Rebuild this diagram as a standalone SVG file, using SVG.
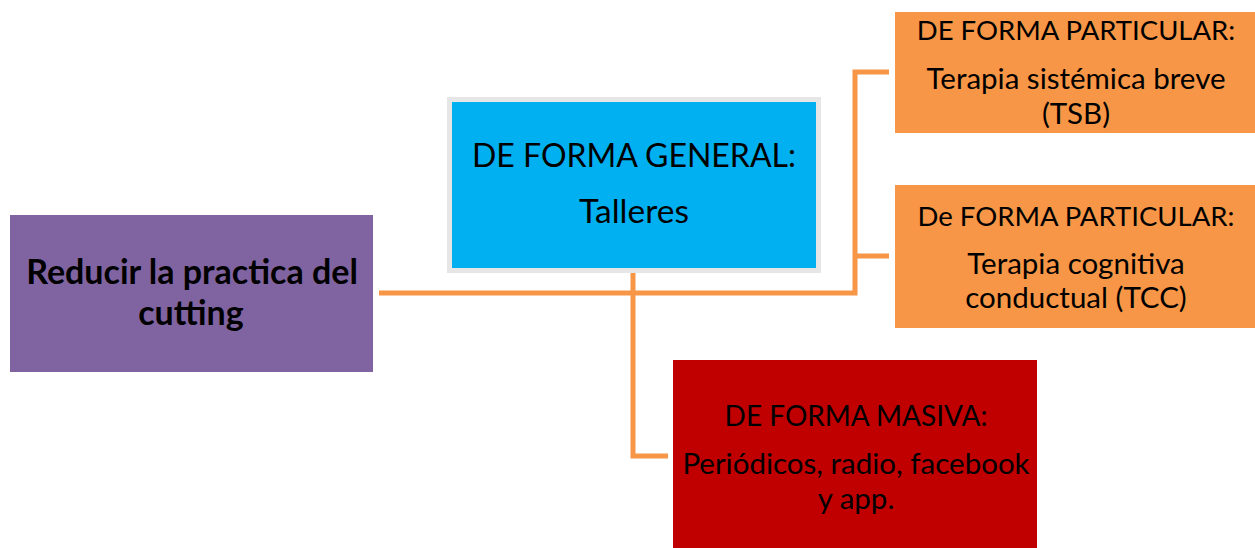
<svg xmlns="http://www.w3.org/2000/svg" width="1255" height="548" viewBox="0 0 1255 548">
<style>
.t{font-family:Lato,"Open Sans","Liberation Sans",sans-serif;fill:#000;text-anchor:middle}
.c{fill:none;stroke:#F79646;stroke-width:5;stroke-linejoin:miter}
</style>
<rect width="1255" height="548" fill="#fff"/>
<g id="connectors">
<polyline class="c" points="379,293 855,293 855,72 889,72"/>
<polyline class="c" points="855,256 889,256"/>
<polyline class="c" points="633,273 633,456 668,456"/>
</g>
<g id="root">
<rect x="10" y="215" width="363" height="157" fill="#8064A2"/>
<text class="t" x="192" y="284" font-size="34" font-weight="bold">Reducir la practica del</text>
<text class="t" x="191" y="325" font-size="34" font-weight="bold">cutting</text>
</g>
<g id="general">
<rect x="449.5" y="99.5" width="369" height="171" fill="#00B0F0" stroke="#E6E6E6" stroke-width="5"/>
<text class="t" x="634" y="167" font-size="32">DE FORMA GENERAL:</text>
<text class="t" x="634" y="223" font-size="33.5">Talleres</text>
</g>
<g id="tsb">
<rect x="895" y="12" width="360" height="121" fill="#F79646"/>
<text class="t" x="1076" y="40" font-size="27.5">DE FORMA PARTICULAR:</text>
<text class="t" x="1076" y="89" font-size="29.5">Terapia sistémica breve</text>
<text class="t" x="1076" y="124" font-size="29.5">(TSB)</text>
</g>
<g id="tcc">
<rect x="895" y="185" width="360" height="143" fill="#F79646"/>
<text class="t" x="1076" y="226" font-size="27.5">De FORMA PARTICULAR:</text>
<text class="t" x="1076" y="274" font-size="29.5">Terapia cognitiva</text>
<text class="t" x="1076" y="308" font-size="29.5">conductual (TCC)</text>
</g>
<g id="masiva">
<rect x="673" y="360" width="364" height="188" fill="#C00000"/>
<text class="t" x="856" y="426" font-size="28">DE FORMA MASIVA:</text>
<text class="t" x="856" y="474" font-size="29.5">Periódicos, radio, facebook</text>
<text class="t" x="856" y="509" font-size="29.5">y app.</text>
</g>
</svg>
